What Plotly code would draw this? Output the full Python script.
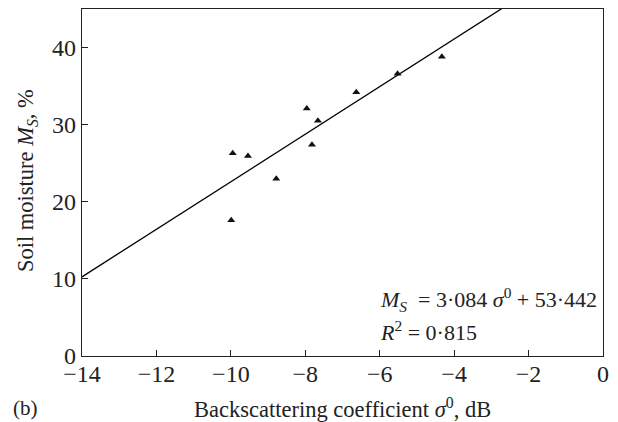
import plotly.graph_objects as go

# Data
sigma0 = [-9.95, -9.54, -9.99, -8.78, -7.96, -7.66, -7.82, -6.63, -5.52, -4.33]
moisture = [26.3, 25.95, 17.6, 23.0, 32.1, 30.5, 27.4, 34.2, 36.6, 38.8]

# Regression as printed on the chart
slope = 3.084
intercept = 53.442
line_x = [-14, 0]
line_y = [slope * v + intercept for v in line_x]

x_ticks = [-14, -12, -10, -8, -6, -4, -2, 0]
x_tick_labels = ["\u221214", "\u221212", "\u221210", "\u22128", "\u22126", "\u22124", "\u22122", "0"]
y_ticks = [0, 10, 20, 30, 40]
y_tick_labels = ["0", "10", "20", "30", "40"]

FONT = "Liberation Serif, Times New Roman, serif"
INK = "#222222"

fig = go.Figure()
fig.add_trace(go.Scatter(x=line_x, y=line_y, mode="lines",
                         line=dict(color="black", width=1.3), hoverinfo="skip"))
fig.add_trace(go.Scatter(x=sigma0, y=moisture, mode="markers",
                         marker=dict(symbol="triangle-up", color="#111111", size=7)))

fig.update_layout(
    width=618, height=422,
    margin=dict(l=82, r=15, t=9, b=66),
    paper_bgcolor="white", plot_bgcolor="white",
    showlegend=False,
    font=dict(family=FONT, color=INK, size=22),
    xaxis=dict(range=[-14, 0], tickvals=x_ticks, ticktext=x_tick_labels,
               ticks="inside", ticklen=6, tickcolor=INK, automargin=False,
               ticklabelstandoff=-4,
               showline=True, linecolor=INK, linewidth=1.2, mirror=True,
               showgrid=False, zeroline=False,
               tickfont=dict(size=24, family=FONT, color=INK)),
    yaxis=dict(range=[0, 45], tickvals=y_ticks, ticktext=y_tick_labels,
               ticks="inside", ticklen=6, tickcolor=INK, automargin=False,
               showline=True, linecolor=INK, linewidth=1.2, mirror=True,
               showgrid=False, zeroline=False,
               tickfont=dict(size=24, family=FONT, color=INK)),
    annotations=[
        dict(x=0.5, y=-0.150, xref="paper", yref="paper", xanchor="center", yanchor="middle",
             showarrow=False,
             text="Backscattering coefficient <i>\u03c3</i><sup>0</sup>, dB",
             font=dict(size=22.5, family=FONT, color=INK)),
        dict(x=-0.1056, y=0.507, xref="paper", yref="paper", xanchor="center", yanchor="middle",
             showarrow=False, textangle=-90,
             text="Soil moisture <i>M</i><sub><i>S</i></sub>, %",
             font=dict(size=22.5, family=FONT, color=INK)),
        dict(x=0.568, y=0.164, xref="paper", yref="paper", xanchor="left", yanchor="middle",
             showarrow=False, align="left",
             text="<i>M</i><sub><i>S</i></sub>  = 3\u00b7084 <i>\u03c3</i><sup>0</sup> + 53\u00b7442",
             font=dict(size=22, family=FONT, color=INK)),
        dict(x=0.568, y=0.072, xref="paper", yref="paper", xanchor="left", yanchor="middle",
             showarrow=False, align="left",
             text="<i>R</i><sup>2</sup> = 0\u00b7815",
             font=dict(size=22, family=FONT, color=INK)),
        dict(x=-0.109, y=-0.150, xref="paper", yref="paper", xanchor="center", yanchor="middle",
             showarrow=False, text="(b)", font=dict(size=21, family=FONT, color=INK)),
    ],
)

fig.write_html("out.html", config={"displayModeBar": False},
               post_script="document.body.style.margin='0';document.body.style.padding='0';")
